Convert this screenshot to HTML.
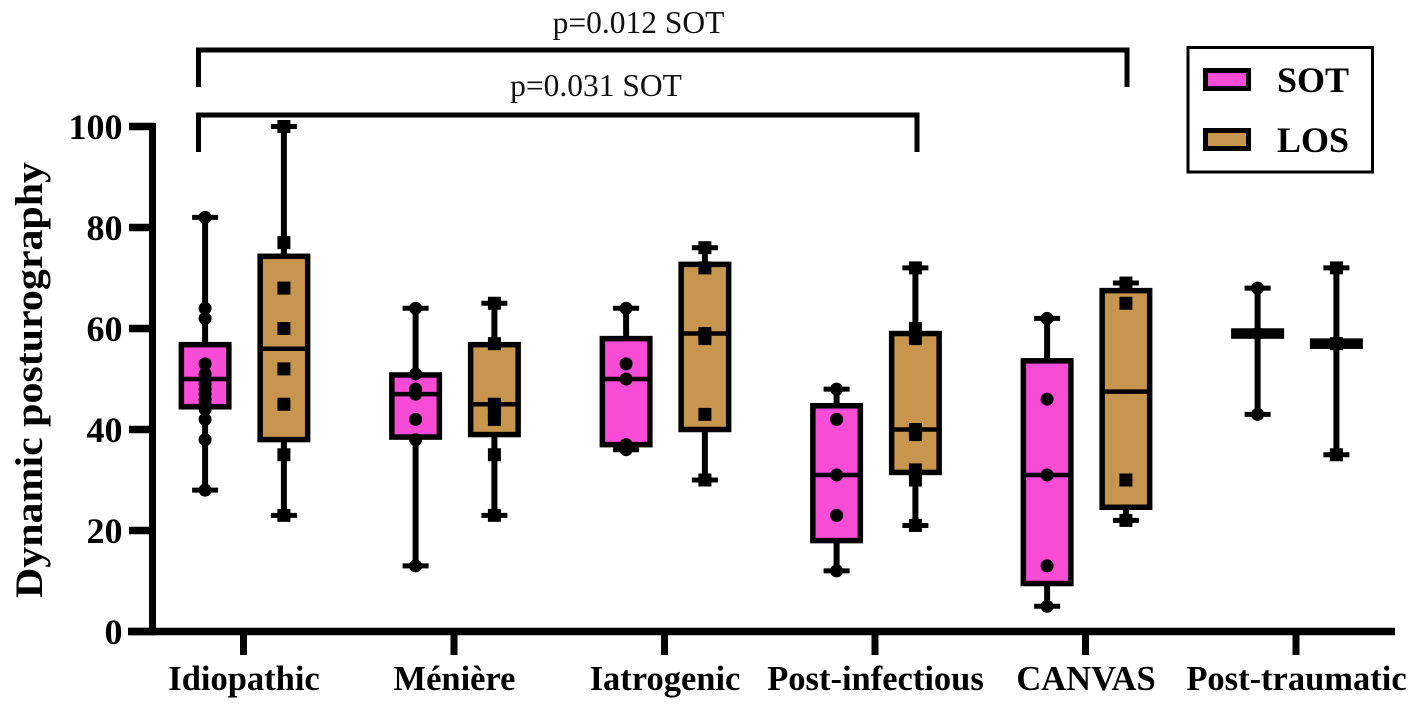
<!DOCTYPE html>
<html lang="en">
<head>
<meta charset="utf-8">
<title>Dynamic posturography box plot</title>
<style>
html,body{margin:0;padding:0;background:#fff;width:1418px;height:710px;overflow:hidden}
svg{display:block;font-family:"Liberation Serif",serif}
</style>
</head>
<body>
<svg id="chart" width="1418" height="710" viewBox="0 0 1418 710" xmlns="http://www.w3.org/2000/svg">
  <rect width="1418" height="710" fill="#ffffff"/>
  <g fill="none" stroke="#000" stroke-width="5">
    <path d="M198.500 87V50H1127V87"/>
  </g>
  <text x="638.500" y="33" font-size="31.500" text-anchor="middle" fill="#111">p=0.012 SOT</text>
  <g fill="none" stroke="#000" stroke-width="5">
    <path d="M198.500 152V115H917V152"/>
  </g>
  <text x="596" y="96" font-size="31.500" text-anchor="middle" fill="#111">p=0.031 SOT</text>
  <text transform="translate(42 380) rotate(-90)" font-size="39" font-weight="bold" text-anchor="middle" textLength="436" lengthAdjust="spacingAndGlyphs">Dynamic posturography</text>
  <g id="marks"></g>
  <g id="axes"></g>
  <g>
    <rect x="1188" y="47.500" width="184.500" height="124.500" fill="#fff" stroke="#000" stroke-width="3"/>
    <rect x="1205.500" y="70.500" width="43" height="18" fill="#f84cd6" stroke="#000" stroke-width="5"/>
    <text x="1277" y="92" font-size="36" font-weight="bold">SOT</text>
    <rect x="1205.500" y="130.500" width="43" height="18" fill="#c8954f" stroke="#000" stroke-width="5"/>
    <text x="1277" y="152" font-size="36" font-weight="bold">LOS</text>
  </g>
</svg>
<script>
var categories = ['Idiopathic', 'Ménière', 'Iatrogenic', 'Post-infectious', 'CANVAS', 'Post-traumatic'];
var yTicks = [0, 20, 40, 60, 80, 100];

var sotMin = [28, 13, 36, 12, 5, 43];
var sotQ1 = [44.5, 38.5, 37, 18, 9.5, 58.5];
var sotMedian = [50, 47, 50, 31, 31, 59];
var sotQ3 = [56.8, 50.8, 58, 44.7, 53.6, 59.5];
var sotMax = [82, 64, 64, 48, 62, 68];
var sotPoints = [
  [82, 64, 62, 53, 51, 50, 49, 48, 47, 46, 45, 44, 42, 38, 28],
  [64, 51, 48, 47, 42, 38, 13],
  [64, 53, 50, 37, 36],
  [48, 42, 31, 23, 12],
  [62, 46, 31, 13, 5],
  [68, 59, 43]
];

var losMin = [23, 23, 30, 21, 22, 35];
var losQ1 = [38, 39, 40, 31.5, 24.6, 56.5];
var losMedian = [56, 45, 59, 40, 47.5, 57];
var losQ3 = [74.3, 56.8, 72.7, 59, 67.5, 57.5];
var losMax = [100, 65, 76, 72, 69, 72];
var losPoints = [
  [100, 77, 68, 60, 52, 45, 35, 23],
  [65, 57, 45, 44, 43, 42, 35, 23],
  [76, 72, 59, 58, 43, 30],
  [72, 60, 58, 40, 39, 32, 30, 21],
  [69, 65, 30, 22],
  [72, 57, 35]
];

var NS = 'http://www.w3.org/2000/svg';
function yScale(v) { return 631.5 - v * 5.05; }
function xScale(i) { return 244.5 + i * 210.5; }
function make(tag, parent, props) {
  var el = document.createElementNS(NS, tag);
  for (var k in props) { el.setAttribute(k, props[k]); }
  parent.appendChild(el);
  return el;
}

var marks = document.getElementById('marks');
var axes = document.getElementById('axes');

function drawBox(i, cx, fill, key, minV, q1V, medV, q3V, maxV, pts, square) {
  var g = make('g', marks, {});
  
  

  var whisker = make('line', g, {x1: cx, x2: cx, y1: yScale(maxV), y2: yScale(minV), stroke: '#000', 'stroke-width': 6});
  
  

  var capTop = make('line', g, {x1: cx - 13, x2: cx + 13, y1: yScale(maxV), y2: yScale(maxV), stroke: '#000', 'stroke-width': 5});
  
  

  var capBottom = make('line', g, {x1: cx - 13, x2: cx + 13, y1: yScale(minV), y2: yScale(minV), stroke: '#000', 'stroke-width': 5});
  
  

  var box = make('rect', g, {x: cx - 23.750, y: yScale(q3V), width: 47.500, height: yScale(q1V) - yScale(q3V), fill: fill, stroke: '#000', 'stroke-width': 5.500});
  
  

  var med = make('line', g, {x1: cx - 23.750, x2: cx + 23.750, y1: yScale(medV), y2: yScale(medV), stroke: '#000', 'stroke-width': 4.500});
  
  

  pts.forEach(function (v) {
    var p;
    if (square) {
      p = make('rect', g, {x: cx - 6.500, y: yScale(v) - 6.500, width: 13, height: 13, fill: '#000'});
    } else {
      p = make('circle', g, {cx: cx, cy: yScale(v), r: 6.500, fill: '#000'});
    }
    
    
  });
}

categories.forEach(function (name, i) {
  var c = xScale(i);
  drawBox(i, c - 39.400, '#f84cd6', 'sot', sotMin[i], sotQ1[i], sotMedian[i], sotQ3[i], sotMax[i], sotPoints[i], false);
  drawBox(i, c + 39.400, '#c8954f', 'los', losMin[i], losQ1[i], losMedian[i], losQ3[i], losMax[i], losPoints[i], true);

  var tick = make('line', axes, {x1: c - 1, x2: c - 1, y1: 631, y2: 655, stroke: '#000', 'stroke-width': 7});
  
  

  var label = make('text', axes, {x: c - 0.500, y: 690, 'font-size': 34.500, 'font-weight': 'bold', 'text-anchor': 'middle'});
  
  
  label.textContent = name;
});

yTicks.forEach(function (v) {
  var tick = make('line', axes, {x1: 129, x2: 155, y1: yScale(v), y2: yScale(v), stroke: '#000', 'stroke-width': 7.500});
  
  

  var label = make('text', axes, {x: 122.500, y: yScale(v) + 12.500, 'font-size': 36, 'font-weight': 'bold', 'text-anchor': 'end'});
  
  
  label.textContent = v;
});

var yLine = make('line', axes, {x1: 152.500, x2: 152.500, y1: yScale(100) - 3.500, y2: yScale(0) + 3, stroke: '#000', 'stroke-width': 7});



var xLine = make('line', axes, {x1: 128, x2: 1395, y1: yScale(0), y2: yScale(0), stroke: '#000', 'stroke-width': 7.500});


</script>
</body>
</html>
